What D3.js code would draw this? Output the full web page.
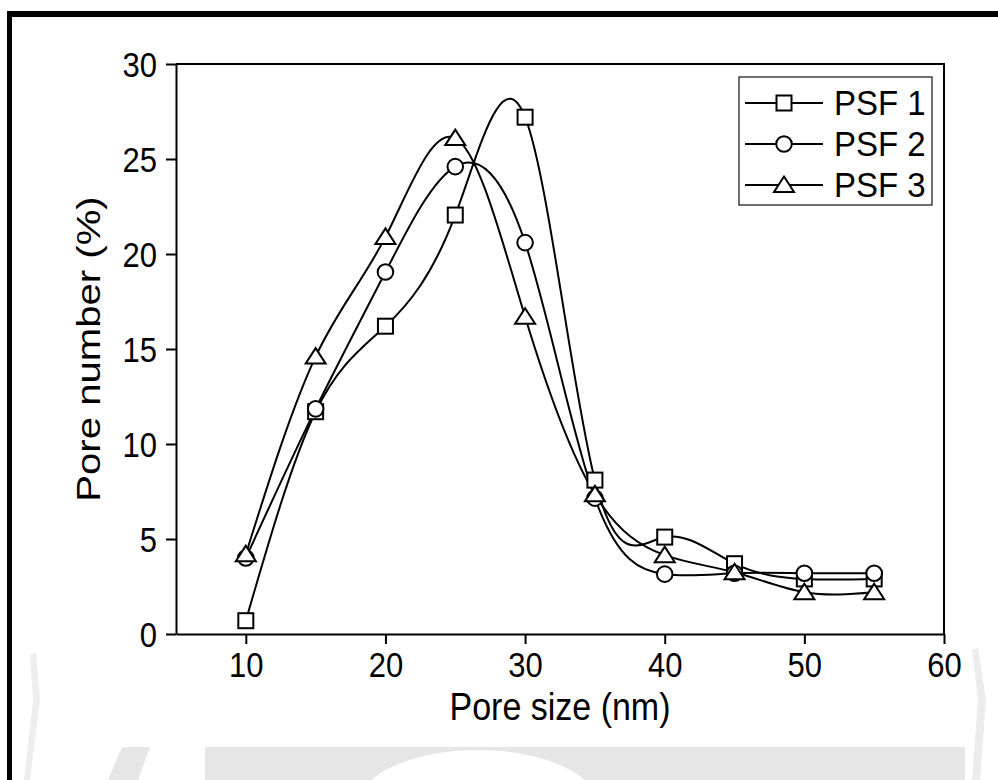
<!DOCTYPE html>
<html>
<head>
<meta charset="utf-8">
<script src="https://cdn.jsdelivr.net/npm/d3@7"></script>
<style>
  body { margin: 0; background: #fff; }
  svg { display: block; }
  text { font-family: "Liberation Sans", Arial, sans-serif; fill: #000; }
</style>
</head>
<body>
<div id="chart"></div>
<script>
// data
const poreSize = [10, 15, 20, 25, 30, 35, 40, 45, 50, 55];
const psf1 = [0.7, 11.7, 16.2, 22.05, 27.2, 8.1, 5.1, 3.7, 2.9, 2.9];
const psf2 = [4.0, 11.85, 19.05, 24.6, 20.6, 7.15, 3.15, 3.2, 3.2, 3.2];
const psf3 = [4.2, 14.6, 20.9, 26.1, 16.7, 7.35, 4.15, 3.25, 2.2, 2.2];
const seriesNames = ["PSF 1", "PSF 2", "PSF 3"];
const xTicks = [10, 20, 30, 40, 50, 60];
const yTicks = [0, 5, 10, 15, 20, 25, 30];

const W = 998, H = 780;
const margin = {top: 64, right: 54, bottom: 146, left: 176};
const width = W - margin.left - margin.right,
      height = H - margin.top - margin.bottom;
const stretch = 1.16; // the scanned figure is a bit taller than wide

const svg = d3.select("#chart").append("svg")
    .attr("width", W)
    .attr("height", H);

// faint watermark from the page behind the figure
const wm = svg.append("g").attr("fill", "#e6e6e6");
wm.append("path").attr("d", "M205,747 L965,747 L965,780 L205,780 Z");
wm.append("ellipse").attr("cx", 478).attr("cy", 808).attr("rx", 122).attr("ry", 58).attr("fill", "#fff");
wm.append("path").attr("d", "M122,747 L150,747 L138,780 L108,780 Z");
wm.append("path").attr("d", "M972,650 L978,648 L986,700 L980,780 L972,780 L978,700 Z").attr("fill", "#ececec");
wm.append("path").attr("d", "M30,655 L36,652 L40,700 L30,780 L24,780 L33,700 Z").attr("fill", "#eeeeee");

// black page border (top and left)
svg.append("rect").attr("x", 7).attr("y", 11).attr("width", W - 7).attr("height", 6).attr("fill", "#000");
svg.append("rect").attr("x", 7).attr("y", 11).attr("width", 5).attr("height", H - 11).attr("fill", "#000");

const g = svg.append("g").attr("transform", `translate(${margin.left},${margin.top})`);

const x = d3.scaleLinear().domain([5, 60]).range([0, width]);
const y = d3.scaleLinear().domain([0, 30]).range([height, 0]);

// axes
const xAxis = g.append("g")
    .attr("transform", `translate(0,${height})`)
    .call(d3.axisBottom(x).tickValues(xTicks).tickSize(10).tickSizeOuter(0));
const yAxis = g.append("g")
    .call(d3.axisLeft(y).tickValues(yTicks).tickSize(10).tickSizeOuter(0));

[xAxis, yAxis].forEach(a => {
  a.selectAll("path, line").attr("stroke", "#000").attr("stroke-width", 2);
  a.selectAll("text").style("font-size", "31px").attr("font-family", null);
});
xAxis.selectAll("text")
    .attr("y", 0).attr("dy", "0.36em")
    .attr("transform", `translate(0,30) scale(1,${stretch})`);
yAxis.selectAll("text")
    .attr("x", 0).attr("dy", "0.36em")
    .attr("transform", `translate(-19,0) scale(1,${stretch})`);

// frame on top and right
g.append("path")
    .attr("d", `M0,0 H${width} V${height}`)
    .attr("fill", "none")
    .attr("stroke", "#000")
    .attr("stroke-width", 2);

// axis titles
g.append("text")
    .attr("transform", `translate(${width / 2},${height + 72}) scale(1,${stretch})`)
    .attr("text-anchor", "middle")
    .attr("dy", "0.36em")
    .style("font-size", "34px")
    .text("Pore size (nm)");

g.append("text")
    .attr("transform", `translate(${-88},${height / 2}) scale(1,${stretch + 0.02}) rotate(-90)`)
    .attr("text-anchor", "middle")
    .attr("dy", "0.36em")
    .style("font-size", "34px")
    .text("Pore number (%)");

// series
const series = [psf1, psf2, psf3].map((vals, i) => ({
  name: seriesNames[i],
  points: poreSize.map((s, j) => ({x: s, y: vals[j]})),
  shape: ["square", "circle", "triangle"][i]
}));

const line = d3.line()
    .x(d => x(d.x))
    .y(d => y(d.y))
    .curve(d3.curveNatural);

function drawMarker(sel, shape) {
  if (shape === "square") {
    sel.append("rect").attr("x", -7.5).attr("y", -7.5).attr("width", 15).attr("height", 15);
  } else if (shape === "circle") {
    sel.append("circle").attr("r", 7.8);
  } else {
    sel.append("path").attr("d", "M0,-8.5 L10,7 L-10,7 Z");
  }
  sel.attr("fill", "#fff").attr("stroke", "#000").attr("stroke-width", 2);
}

series.forEach(s => {
  g.append("path")
      .datum(s.points)
      .attr("fill", "none")
      .attr("stroke", "#000")
      .attr("stroke-width", 2)
      .attr("d", line);
});

series.forEach(s => {
  g.append("g")
    .selectAll("g")
    .data(s.points)
    .join("g")
      .attr("transform", d => `translate(${x(d.x)},${y(d.y)})`)
      .each(function() { drawMarker(d3.select(this), s.shape); });
});

// legend
const legend = svg.append("g").attr("transform", "translate(739,77)");
legend.append("rect")
    .attr("width", 193)
    .attr("height", 128)
    .attr("fill", "#fff")
    .attr("stroke", "#222")
    .attr("stroke-width", 1.3);

series.forEach((s, i) => {
  const item = legend.append("g").attr("transform", `translate(0,${26 + 41 * i})`);
  item.append("line")
      .attr("x1", 6).attr("x2", 84)
      .attr("stroke", "#000").attr("stroke-width", 2);
  const m = item.append("g").attr("transform", "translate(45,0)");
  drawMarker(m, s.shape);
  item.append("text")
      .attr("transform", `translate(95,0) scale(1,1.05)`)
      .attr("dy", "0.36em")
      .style("font-size", "33px")
      .text(s.name);
});
</script>
</body>
</html>
